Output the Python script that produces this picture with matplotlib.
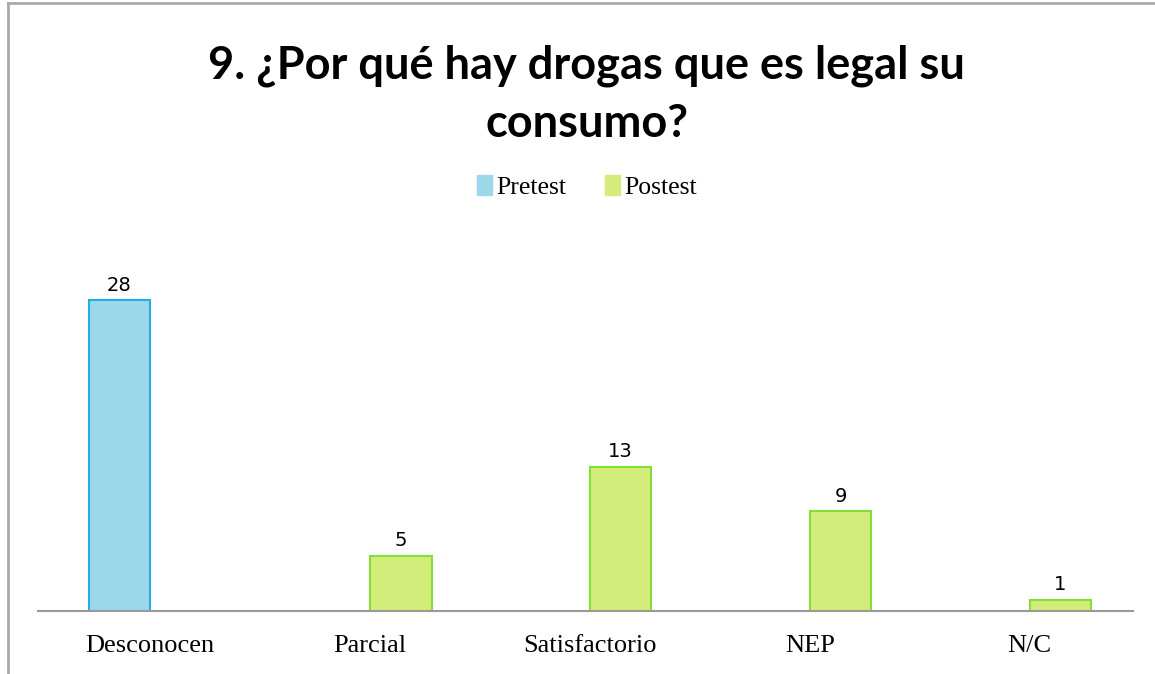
import numpy as np
import matplotlib.pyplot as plt
from matplotlib.lines import Line2D

# Answers per category, before and after the workshop
categories = ["Desconocen", "Parcial", "Satisfactorio", "NEP", "N/C"]
pretest = [28, 0, 0, 0, 0]
postest = [0, 5, 13, 9, 1]
series_names = ["Pretest", "Postest"]

pre_fill, pre_edge = "#9dd8ea", "#22aee8"
post_fill, post_edge = "#d4ed7a", "#80e03a"

fig = plt.figure(figsize=(11.55, 6.74), dpi=100)
ax = fig.add_axes([38 / 1155, 1 - 611 / 674, (1133 - 38) / 1155, 333 / 674])

x = np.arange(len(categories))
w = 0.28

# only draw non-zero bars so empty slots stay blank
for xi, v in zip(x, pretest):
    if v:
        ax.bar(xi - w / 2, v, w, color=pre_fill, edgecolor=pre_edge, linewidth=1.5)
        ax.text(xi - w / 2, v + 0.5, str(v), ha="center", va="bottom",
                fontsize=14, family="DejaVu Sans")
for xi, v in zip(x, postest):
    if v:
        ax.bar(xi + w / 2, v, w, color=post_fill, edgecolor=post_edge, linewidth=1.5)
        ax.text(xi + w / 2, v + 0.5, str(v), ha="center", va="bottom",
                fontsize=14, family="DejaVu Sans")

ax.set_xlim(-0.51, 4.47)
ax.set_ylim(0, 30)
ax.set_xticks(x)
ax.set_xticklabels(categories, family="Liberation Serif", fontsize=19)
ax.tick_params(axis="x", length=0, pad=17)
ax.set_yticks([])
for side in ["top", "right", "left"]:
    ax.spines[side].set_visible(False)
ax.spines["bottom"].set_color("#999999")
ax.spines["bottom"].set_linewidth(1.5)

# title in two lines
fig.text(0.508, 1 - 66 / 674, "9. ¿Por qué hay drogas que es legal su",
         ha="center", va="center", fontsize=32.5, fontweight="bold", family="Lato")
fig.text(0.508, 1 - 124 / 674, "consumo?",
         ha="center", va="center", fontsize=32.5, fontweight="bold", family="Lato")

handles = [plt.Rectangle((0, 0), 1, 1, color=pre_fill),
           plt.Rectangle((0, 0), 1, 1, color=post_fill)]
fig.legend(handles, series_names, loc="center", bbox_to_anchor=(0.508, 1 - 187 / 674),
           ncol=2, frameon=False, prop={"family": "Liberation Serif", "size": 18.5},
           handlelength=0.6, handleheight=0.8, handletextpad=0.15, columnspacing=1.5)

# chart border along the top and left edges
fig.add_artist(Line2D([8 / 1155, 8 / 1155], [0, 1 - 3 / 674], color="#aaaaaa", lw=2))
fig.add_artist(Line2D([8 / 1155, 1], [1 - 3 / 674, 1 - 3 / 674], color="#aaaaaa", lw=2))

fig.savefig("out.png", dpi=100)
